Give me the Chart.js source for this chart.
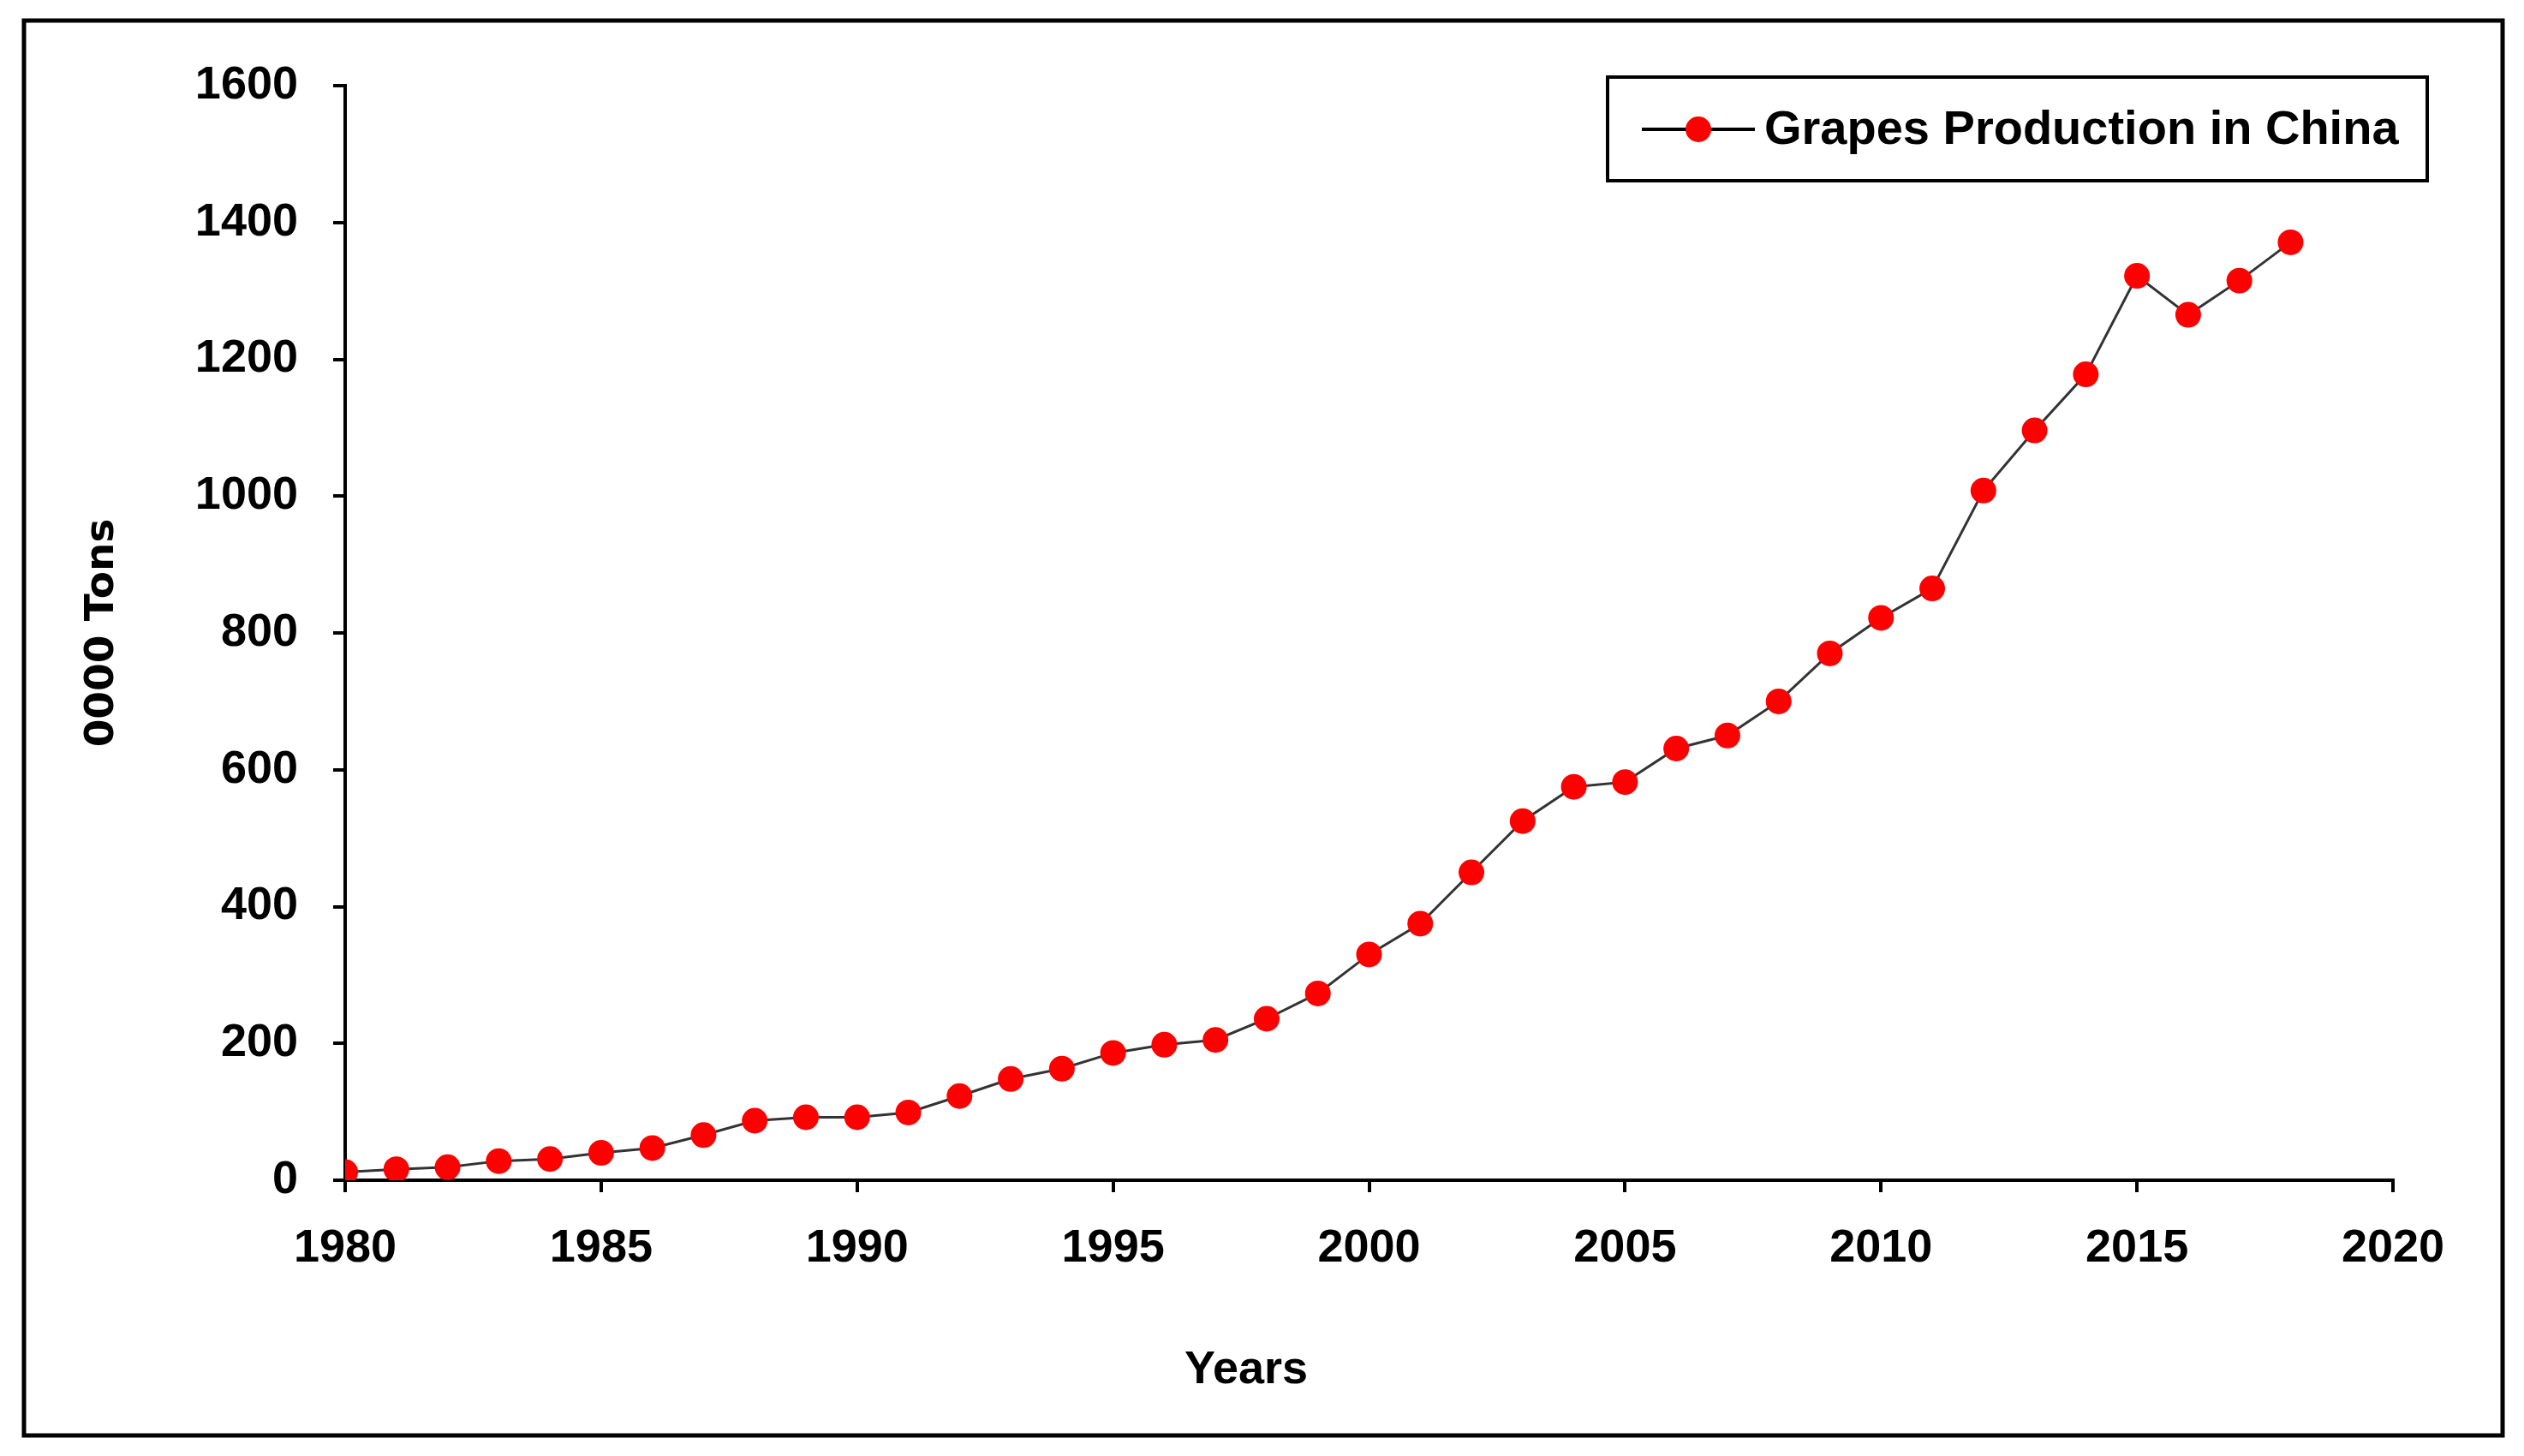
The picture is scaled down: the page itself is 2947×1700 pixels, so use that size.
<!DOCTYPE html>
<html>
<head>
<meta charset="utf-8">
<script src="https://cdn.jsdelivr.net/npm/chart.js@4.4.1/dist/chart.umd.min.js"></script>
<style>
  html, body { margin: 0; padding: 0; background: #fff; }
  #wrap { width: 2947px; height: 1700px; position: relative; }
</style>
</head>
<body>
<div id="wrap"><canvas id="c"></canvas></div>
<script>
const years = [1980,1981,1982,1983,1984,1985,1986,1987,1988,1989,1990,1991,1992,1993,1994,1995,1996,1997,1998,1999,2000,2001,2002,2003,2004,2005,2006,2007,2008,2009,2010,2011,2012,2013,2014,2015,2016,2017,2018];
const production = [12,16,19,28,31,40,47,66,87,92,92,99,123,148,163,186,198,205,236,273,330,375,450,525,575,582,631,650,700,770,822,865,1008,1096,1178,1322,1265,1315,1371];
const seriesLabel = 'Grapes Production in China';
const yTitle = '0000 Tons';
const xTitle = 'Years';
const yMin = 0, yMax = 1600, yStep = 200;
const xMin = 1980, xMax = 2020, xStep = 5;

const points = years.map((y, i) => ({ x: y, y: production[i] }));

const framePlugin = {
  id: 'frame',
  beforeDraw(chart) {
    const ctx = chart.ctx;
    ctx.save();
    ctx.fillStyle = '#fff';
    ctx.fillRect(0, 0, chart.width, chart.height);
    ctx.restore();
  },
  afterDraw(chart) {
    const ctx = chart.ctx;
    ctx.save();
    // outer border
    ctx.strokeStyle = '#000';
    ctx.lineWidth = 5;
    ctx.strokeRect(28, 24, 2894, 1652);
    // x title
    ctx.fillStyle = '#000';
    ctx.font = 'bold 54px "Liberation Sans", Arial, sans-serif';
    ctx.textAlign = 'center';
    ctx.textBaseline = 'middle';
    ctx.fillText(xTitle, 1455, 1600);
    // legend
    const ds = chart.data.datasets[0];
    ctx.lineWidth = 4;
    ctx.strokeRect(1877, 90, 957, 121);
    ctx.beginPath();
    ctx.moveTo(1917, 151);
    ctx.lineTo(2049, 151);
    ctx.strokeStyle = '#000';
    ctx.stroke();
    ctx.beginPath();
    ctx.arc(1983, 151, 15, 0, Math.PI * 2);
    ctx.fillStyle = ds.pointBackgroundColor;
    ctx.fill();
    ctx.fillStyle = '#000';
    ctx.font = 'bold 56px "Liberation Sans", Arial, sans-serif';
    ctx.textAlign = 'left';
    ctx.fillText(ds.label, 2060, 153);
    ctx.restore();
  }
};

new Chart(document.getElementById('c'), {
  type: 'line',
  data: {
    datasets: [{
      label: seriesLabel,
      data: points,
      borderColor: '#333',
      borderWidth: 3,
      pointRadius: 15,
      pointHoverRadius: 15,
      pointBackgroundColor: '#ff0000',
      pointBorderColor: '#ff0000',
      pointBorderWidth: 0,
      tension: 0,
      fill: false
    }]
  },
  options: {
    responsive: true,
    maintainAspectRatio: false,
    devicePixelRatio: 1,
    animation: false,
    layout: { padding: { left: 0, top: 100, right: 153, bottom: 0 } },
    plugins: {
      legend: { display: false },
      tooltip: { enabled: false }
    },
    scales: {
      x: {
        type: 'linear',
        min: xMin,
        max: xMax,
        afterFit(scale) { scale.height = 322; },
        ticks: {
          stepSize: xStep,
          color: '#000',
          padding: 34,
          font: { family: '"Liberation Sans", Arial, sans-serif', size: 54, weight: 'bold' },
          callback: v => String(v)
        },
        grid: { drawOnChartArea: false, drawTicks: true, tickLength: 14, color: '#000', lineWidth: 4 },
        border: { display: true, color: '#000', width: 4 },
        title: { display: false }
      },
      y: {
        min: yMin,
        max: yMax,
        afterFit(scale) { scale.width = 403; },
        ticks: {
          stepSize: yStep,
          color: '#000',
          padding: 41,
          font: { family: '"Liberation Sans", Arial, sans-serif', size: 54, weight: 'bold' },
          callback: v => String(v)
        },
        grid: { drawOnChartArea: false, drawTicks: true, tickLength: 14, color: '#000', lineWidth: 4 },
        border: { display: true, color: '#000', width: 4 },
        title: {
          display: true,
          text: yTitle,
          color: '#000',
          font: { family: '"DejaVu Sans", Verdana, sans-serif', size: 47, weight: 'bold', lineHeight: 1 },
          padding: { top: 96, bottom: 0 }
        }
      }
    }
  },
  plugins: [framePlugin]
});
</script>
</body>
</html>
